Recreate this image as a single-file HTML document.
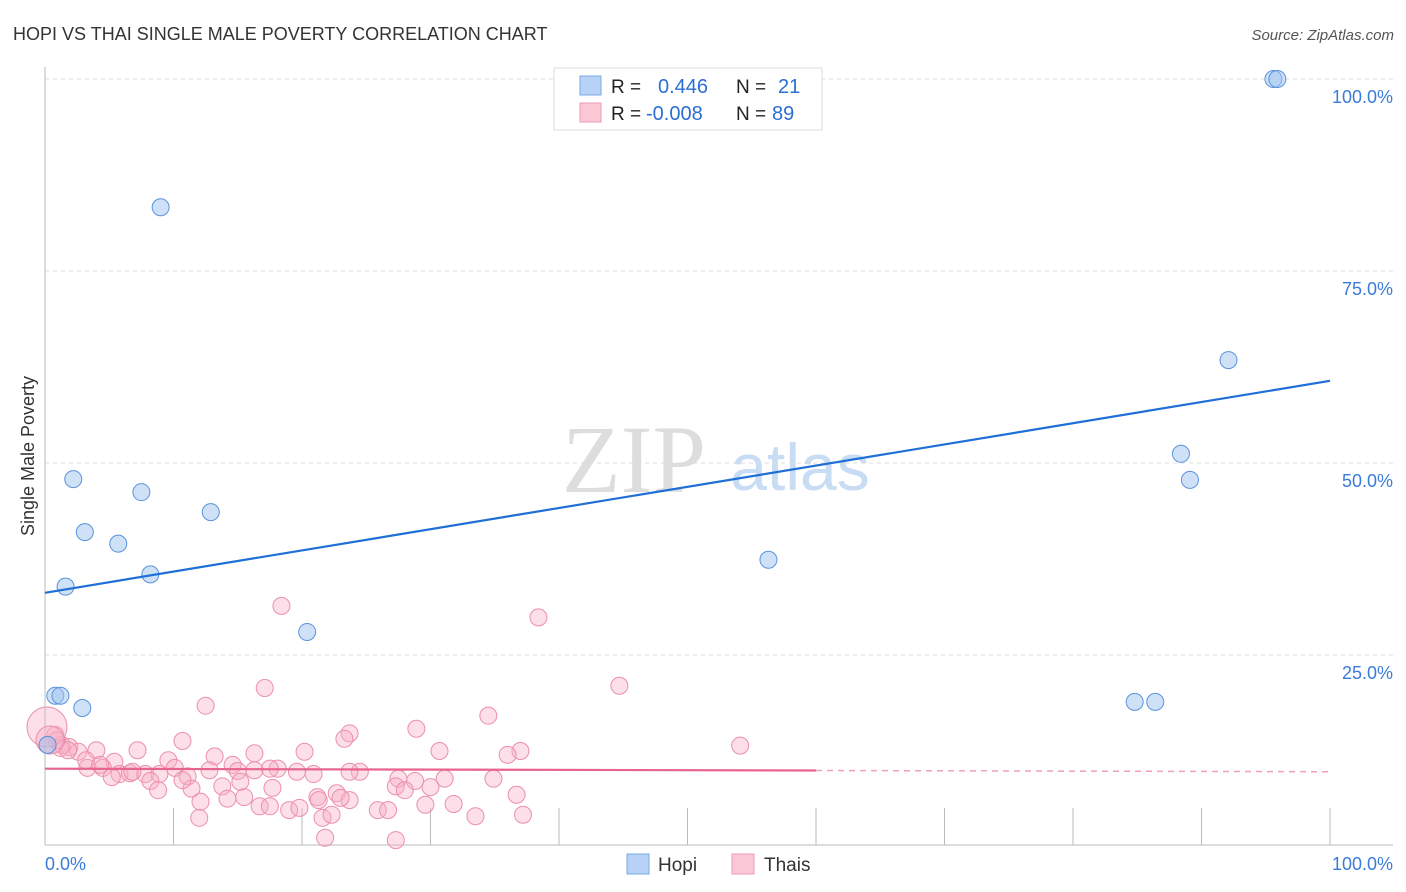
<!DOCTYPE html>
<html><head><meta charset="utf-8"><style>
body{margin:0;background:#fff;font-family:"Liberation Sans",sans-serif;}
svg{display:block}
</style></head><body>
<svg id="c" width="1406" height="892" xmlns="http://www.w3.org/2000/svg">
<text x="13" y="40" font-size="18" fill="#333">HOPI VS THAI SINGLE MALE POVERTY CORRELATION CHART</text>
<text x="1394" y="40" font-size="15" fill="#555" font-style="italic" text-anchor="end">Source: ZipAtlas.com</text>
<text x="634" y="492" font-size="96" fill="#ddd" font-family="Liberation Serif,serif" text-anchor="middle">ZIP</text>
<text x="800" y="490" font-size="66" fill="#c8dcf4" text-anchor="middle">atlas</text>
<text x="34" y="456" font-size="18" fill="#333" text-anchor="middle" transform="rotate(-90 34 456)">Single Male Poverty</text>
<g id="grid"></g><g id="marks"></g>
<g>
<rect x="554" y="68" width="268" height="62" fill="#fff" stroke="#ddd"/>
<rect x="580" y="76" width="21" height="19" fill="#b8d3f5" stroke="#7aa7e4"/>
<rect x="580" y="103" width="21" height="19" fill="#fbc8d6" stroke="#ee9ab4"/>
<text x="611" y="93" font-size="19" fill="#222">R = </text><text x="658" y="93" font-size="20" fill="#2b6fd6">0.446</text>
<text x="736" y="93" font-size="19" fill="#222">N = </text><text x="778" y="93" font-size="20" fill="#2b6fd6">21</text>
<text x="611" y="120" font-size="19" fill="#222">R = </text><text x="646" y="120" font-size="20" fill="#2b6fd6">-0.008</text>
<text x="736" y="120" font-size="19" fill="#222">N = </text><text x="772" y="120" font-size="20" fill="#2b6fd6">89</text>
</g>
<g>
<rect x="627" y="854" width="22" height="20" fill="#b8d3f5" stroke="#7aa7e4"/>
<text x="658" y="871" font-size="19" fill="#333">Hopi</text>
<rect x="732" y="854" width="22" height="20" fill="#fbc8d6" stroke="#ee9ab4"/>
<text x="764" y="871" font-size="19" fill="#333">Thais</text>
</g>
<text x="45" y="870" font-size="18" fill="#3b7bd8">0.0%</text>
<text x="1393" y="870" font-size="18" fill="#3b7bd8" text-anchor="end">100.0%</text>
</svg>
<script>
const yTicks=[100,75,50,25];
const yTickLabels=["100.0%","75.0%","50.0%","25.0%"];
const hopiX=[9.0,2.2,7.5,3.1,5.7,12.9,1.6,8.2,20.4,0.8,1.2,2.9,0.2,56.3,88.4,89.1,92.1,84.8,86.4,95.6,95.9];
const hopiY=[83.3,47.9,46.2,41.0,39.5,43.6,33.9,35.5,28.0,19.7,19.7,18.1,13.3,37.4,51.2,47.8,63.4,18.9,18.9,100,100];
const hopiLine=[33.1,60.7];
const thaiLine=[10.2,9.8];
const thaiPx=[[282,606],[538,617],[265,688],[620,686],[205,706],[488,716],[417,729],[350,733],[345,739],[740,746],[183,741],[520,751],[508,755],[440,751],[304,752],[255,753],[214,756],[138,750],[97,750],[168,760],[233,765],[175,768],[115,762],[103,768],[88,768],[120,774],[130,773],[145,774],[160,774],[188,776],[210,770],[238,771],[277,769],[297,772],[313,774],[360,772],[398,779],[415,781],[445,779],[493,779],[430,787],[396,786],[405,790],[112,777],[150,781],[158,790],[192,789],[222,786],[272,788],[337,793],[349,800],[317,797],[340,798],[200,802],[227,799],[244,797],[260,806],[270,806],[289,810],[300,808],[319,800],[378,810],[516,795],[425,805],[453,804],[199,818],[323,818],[332,815],[388,810],[476,816],[523,815],[325,838],[396,840],[55,735],[62,745],[70,747],[78,752],[86,760],[60,748],[68,750],[57,740],[100,765],[132,772],[270,769],[350,772],[255,770],[183,780],[240,782],[48,745]];
const thaiX=thaiPx.map(p=>+((p[0]-45)/12.85).toFixed(1));
const thaiY=thaiPx.map(p=>+((847-p[1])/7.68).toFixed(1));
const X0=45,X1=1330,Y0=847,Y1=79;
const sx=v=>X0+(X1-X0)*v/100, sy=v=>Y0-(Y0-Y1)*v/100;
const NS="http://www.w3.org/2000/svg";
function mk(t,a,p){const e=document.createElementNS(NS,t);for(const k in a)e.setAttribute(k,a[k]);p.appendChild(e);return e;}
const g=document.getElementById('grid'),m=document.getElementById('marks');
yTicks.forEach((t,i)=>{const l=mk('line',{x1:45,x2:1393,y1:sy(t),y2:sy(t),stroke:'#ddd','stroke-dasharray':'4,4'},g);


const tx=mk('text',{x:1393,y:sy(t)+24,'font-size':18,fill:'#3b7bd8','text-anchor':'end'},g);tx.textContent=yTickLabels[i];

});
mk('line',{x1:45,x2:45,y1:67,y2:845,stroke:'#bbb'},g);
mk('line',{x1:45,x2:1393,y1:845,y2:845,stroke:'#bbb'},g);
for(let i=1;i<=10;i++){const t=mk('line',{x1:sx(i*10),x2:sx(i*10),y1:808,y2:845,stroke:'#bbb'},g);

}
thaiX.forEach((x,i)=>{const c=mk('circle',{cx:sx(x),cy:sy(thaiY[i]),r:8.5,fill:'rgba(248,175,198,0.4)',stroke:'#ec8fab','stroke-width':1},m);

});
[[47,727,20],[50,740,14]].forEach(p=>{const c=mk('circle',{cx:p[0],cy:p[1],r:p[2],fill:'rgba(248,175,198,0.4)',stroke:'#ec8fab'},m);

});
hopiX.forEach((x,i)=>{const c=mk('circle',{cx:sx(x),cy:sy(hopiY[i]),r:8.5,fill:'rgba(160,196,240,0.5)',stroke:'#5b93db','stroke-width':1},m);

});
const hl=mk('line',{x1:sx(0),y1:sy(hopiLine[0]),x2:sx(100),y2:sy(hopiLine[1]),stroke:'#1f6fd6','stroke-width':2.2},m);


const ty=x=>thaiLine[0]+(thaiLine[1]-thaiLine[0])*x/100;
const tl=mk('line',{x1:sx(0),y1:sy(ty(0)),x2:sx(60),y2:sy(ty(60)),stroke:'#e8648c','stroke-width':2.2},m);


const td=mk('line',{x1:sx(60),y1:sy(ty(60)),x2:sx(100),y2:sy(ty(100)),stroke:'#f0a0b8','stroke-width':1.5,'stroke-dasharray':'6,5'},m);


</script>
</body></html>
